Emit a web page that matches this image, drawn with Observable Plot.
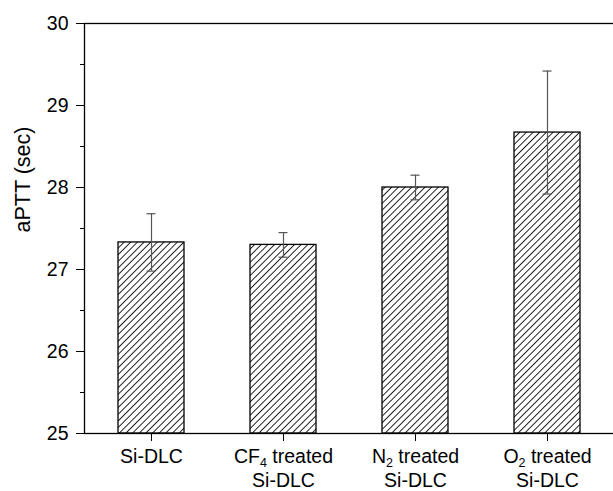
<!DOCTYPE html>
<html>
<head>
<meta charset="utf-8">
<script src="https://cdn.jsdelivr.net/npm/d3@7"></script>
<script src="https://cdn.jsdelivr.net/npm/@observablehq/plot@0.6"></script>
<style>
  html, body { margin: 0; padding: 0; background: #fff; overflow: hidden; }
  svg { display: block; }
</style>
</head>
<body>
<div id="chart"></div>
<script>
const categories = ["Si-DLC", "CF4 treated Si-DLC", "N2 treated Si-DLC", "O2 treated Si-DLC"];
const tickLabels = ["Si-DLC", "CF4 treated\nSi-DLC", "N2 treated\nSi-DLC", "O2 treated\nSi-DLC"];
const means = [27.33, 27.30, 28.00, 28.67];
const errors = [0.35, 0.15, 0.15, 0.75];
const yMajorTicks = [25, 26, 27, 28, 29, 30];
const yMinorTicks = [25.5, 26.5, 27.5, 28.5, 29.5];
const yLabel = "aPTT (sec)";

const data = categories.map((c, i) => ({cat: c, mean: means[i], err: errors[i]}));
const labelOf = new Map(categories.map((c, i) => [c, tickLabels[i]]));

const chart = Plot.plot({
  width: 613,
  height: 491,
  marginTop: 23,
  marginBottom: 58,
  marginLeft: 84,
  marginRight: -1,
  style: {background: "#fff", color: "#000"},
  x: {domain: categories, paddingInner: 0.5, paddingOuter: 0.25},
  y: {domain: [25, 30]},
  marks: [
    Plot.barY(data, {x: "cat", y1: 25, y2: "mean", fill: "url(#hatch)", stroke: "#000", strokeWidth: 1.3}),
    Plot.frame({stroke: "#000", strokeWidth: 1.3}),
    Plot.ruleX(data, {x: "cat", y1: d => d.mean - d.err, y2: d => d.mean + d.err, stroke: "#555", strokeWidth: 1.2}),
    Plot.tickY(data, {x: "cat", y: d => d.mean - d.err, stroke: "#555", strokeWidth: 1.2, insetLeft: 28.5, insetRight: 28.5}),
    Plot.tickY(data, {x: "cat", y: d => d.mean + d.err, stroke: "#555", strokeWidth: 1.2, insetLeft: 28.5, insetRight: 28.5}),
    Plot.axisY({ticks: yMajorTicks, tickSize: 8, tickPadding: 8, tickFormat: d3.format("d"), label: null, stroke: "#000"}),
    Plot.axisY({ticks: yMinorTicks, tickSize: 4, tickFormat: () => "", label: null, stroke: "#000"}),
    Plot.axisX({tickSize: 8, tickPadding: 4, label: null, lineHeight: 1.24, tickFormat: c => labelOf.get(c), stroke: "#000"}),
    Plot.text([yLabel], {frameAnchor: "left", dx: -61, dy: 4, rotate: -90, fill: "#000"})
  ]
});

const ns = "http://www.w3.org/2000/svg";
const defs = document.createElementNS(ns, "defs");
const pat = document.createElementNS(ns, "pattern");
pat.setAttribute("id", "hatch");
pat.setAttribute("patternUnits", "userSpaceOnUse");
pat.setAttribute("width", "4.7");
pat.setAttribute("height", "4.7");
pat.setAttribute("patternTransform", "rotate(45)");
const bg = document.createElementNS(ns, "rect");
bg.setAttribute("width", "4.7"); bg.setAttribute("height", "4.7"); bg.setAttribute("fill", "#fff");
const ln = document.createElementNS(ns, "line");
ln.setAttribute("x1", "0"); ln.setAttribute("y1", "0");
ln.setAttribute("x2", "0"); ln.setAttribute("y2", "4.7");
ln.setAttribute("stroke", "#000"); ln.setAttribute("stroke-width", "1.7");
pat.appendChild(bg); pat.appendChild(ln);
defs.appendChild(pat);
chart.insertBefore(defs, chart.firstChild);

chart.querySelectorAll("text").forEach(t => {
  t.style.fontFamily = "'Liberation Sans', Arial, sans-serif";
  t.style.fontSize = t.textContent === yLabel ? "21.5px" : "19.5px";
  t.style.fill = "#000";
});

chart.querySelectorAll("text, tspan").forEach(el => {
  if (el.children.length) return;
  const m = /^(CF|N|O)(\d)( treated)$/.exec(el.textContent);
  if (!m) return;
  el.textContent = "";
  el.appendChild(document.createTextNode(m[1]));
  const sub = document.createElementNS(ns, "tspan");
  sub.style.fontSize = "12.5px";
  sub.setAttribute("dy", "4");
  sub.textContent = m[2];
  el.appendChild(sub);
  const rest = document.createElementNS(ns, "tspan");
  rest.setAttribute("dy", "-4");
  rest.textContent = m[3];
  el.appendChild(rest);
});

document.getElementById("chart").appendChild(chart);
</script>
</body>
</html>
